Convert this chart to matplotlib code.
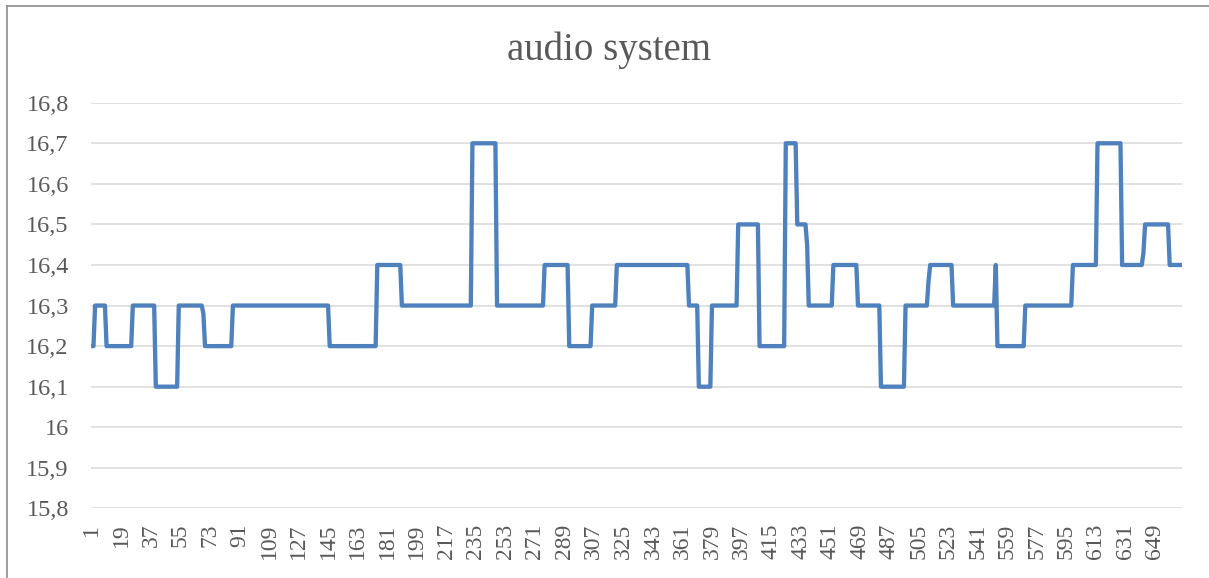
import numpy as np
from matplotlib import pyplot as plt
from matplotlib.ticker import FixedLocator, FuncFormatter
from matplotlib.lines import Line2D

# step data: value of each run and the sample where it starts
run_values = [16.2, 16.3, 16.2, 16.3, 16.1, 16.3, 16.28, 16.2, 16.3, 16.2, 16.4, 16.3,
              16.7, 16.3, 16.4, 16.2, 16.3, 16.4, 16.3, 16.1, 16.3, 16.5, 16.2, 16.7,
              16.5, 16.45, 16.3, 16.4, 16.3, 16.1, 16.3, 16.36, 16.4, 16.3, 16.4, 16.2,
              16.3, 16.4, 16.7, 16.4, 16.43, 16.5, 16.4]
run_starts = [1, 3, 10, 26, 40, 54, 69, 70, 87, 146, 175, 190,
              233, 248, 277, 292, 306, 321, 365, 371, 379, 395, 408, 424,
              431, 437, 438, 453, 468, 482, 497, 511, 512, 526, 552, 553,
              570, 599, 614, 629, 642, 643, 658]
n_samples = 665

y_ticks = [15.8, 15.9, 16.0, 16.1, 16.2, 16.3, 16.4, 16.5, 16.6, 16.7, 16.8]
x_labels = list(range(1, n_samples + 1, 18))

lengths = np.diff(run_starts + [n_samples + 1])
values = np.repeat(run_values, lengths)
x = np.arange(1, n_samples + 1)

serif = ['Liberation Serif', 'DejaVu Serif']
txt_color = '#595959'

fig = plt.figure(figsize=(12.09, 5.78), dpi=100)
ax = fig.add_axes([91 / 1209, 1 - 508.4 / 578, (1182 - 91) / 1209, (508.4 - 102.7) / 578])

ax.plot(x, values, color='#4f81bd', linewidth=3.1, solid_joinstyle='round',
        solid_capstyle='round', zorder=3)

ax.set_xlim(0.5, n_samples + 0.5)
ax.set_ylim(15.8, 16.8)
ax.yaxis.set_major_locator(FixedLocator(y_ticks))
ax.yaxis.set_major_formatter(FuncFormatter(
    lambda v, p: ('%g' % round(v, 1)).replace('.', ',')))
ax.set_xticks(x_labels)
ax.set_xticklabels([str(v) for v in x_labels], rotation=90)
ax.grid(axis='y', color='#d9d9d9', linewidth=1.1, zorder=0)
for s in ax.spines.values():
    s.set_visible(False)
ax.tick_params(axis='both', length=0, labelcolor=txt_color)
ax.tick_params(axis='y', pad=16)
ax.tick_params(axis='x', pad=11)
for lab in ax.get_yticklabels():
    lab.set_fontfamily(serif)
    lab.set_fontsize(17.5)
for lab in ax.get_xticklabels():
    lab.set_fontfamily(serif)
    lab.set_fontsize(17)

fig.text(609 / 1209, 1 - 50 / 578, 'audio system', ha='center', va='center',
         fontsize=28, color=txt_color, family=serif)

# chart frame (left and top edges visible)
fig.add_artist(Line2D([7 / 1209, 7 / 1209], [0, 1 - 6 / 578], color='#8c8c8c',
                      linewidth=1.2, transform=fig.transFigure))
fig.add_artist(Line2D([7 / 1209, 1], [1 - 6 / 578, 1 - 6 / 578], color='#8c8c8c',
                      linewidth=1.2, transform=fig.transFigure))

fig.savefig('out.png', dpi=100)
